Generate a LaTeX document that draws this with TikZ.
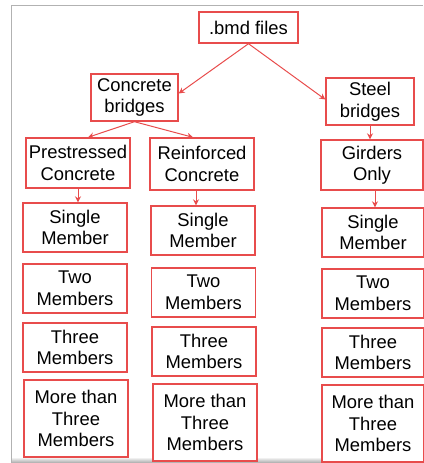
\documentclass[tikz,border=0pt]{standalone}
\usepackage{fontspec}
\setmainfont{Liberation Sans}
\usepackage{tikz}
\usetikzlibrary{arrows.meta}
\definecolor{boxred}{RGB}{232,76,76}

\tikzset{
  caixa/.style={draw=boxred, line width=1.4pt, fill=white, align=center,
    inner sep=1pt, font=\fontsize{18.4}{21.5}\selectfont},
  seta/.style={draw=boxred, line width=1pt, -{Stealth[length=6pt,width=6pt]}}
}

\begin{document}
\begin{tikzpicture}[x=1pt,y=-1pt]
        \useasboundingbox (0,0) rectangle (423,463);

        % moldura
        \shade[top color=white, bottom color=gray!70] (12,457) rectangle (423,463);
        \draw[gray!60, line width=0.9pt] (11,463) -- (11,5) -- (423,5);

        % topo
        \node[caixa, minimum width=99pt, minimum height=31pt] (bmd) at (248.5,27.5) {.bmd files};
        \node[caixa, minimum width=87pt, minimum height=47pt] (concreto) at (134.5,97.5) {Concrete\\bridges};
        \node[caixa, minimum width=88pt, minimum height=47pt] (aco) at (370,101.5) {Steel\\bridges};

        % segundo nivel
        \node[caixa, minimum width=104pt, minimum height=50pt] (pc) at (78,163) {Prestressed\\Concrete};
        \node[caixa, minimum width=104pt, minimum height=52pt] (rc) at (202,164) {Reinforced\\Concrete};
        \node[caixa, minimum width=102pt, minimum height=50pt] (go) at (372,165) {Girders\\Only};

        % Primeira coluna
        \node[caixa, minimum width=104pt, minimum height=49pt] (pc1) at (75,227.5) {Single\\Member};
        \node[caixa, minimum width=104pt, minimum height=49pt] (pc2) at (75,288.5) {Two\\Members};
        \node[caixa, minimum width=104pt, minimum height=49pt] (pc3) at (75,347.5) {Three\\Members};
        \node[caixa, minimum width=104pt, minimum height=77pt] (pc4) at (76,418.5) {More than\\Three\\Members};

        % Segunda coluna
        \node[caixa, minimum width=104pt, minimum height=49pt] (rc1) at (203,230.5) {Single\\Member};
        \node[caixa, minimum width=104pt, minimum height=49pt] (rc2) at (203.5,292.5) {Two\\Members};
        \node[caixa, minimum width=104pt, minimum height=49pt] (rc3) at (204,351.5) {Three\\Members};
        \node[caixa, minimum width=104pt, minimum height=77pt] (rc4) at (205,422.5) {More than\\Three\\Members};

        % Terceira coluna
        \node[caixa, minimum width=102pt, minimum height=49pt] (go1) at (373,232.5) {Single\\Member};
        \node[caixa, minimum width=102pt, minimum height=49pt] (go2) at (373,293.5) {Two\\Members};
        \node[caixa, minimum width=102pt, minimum height=49pt] (go3) at (373,352.5) {Three\\Members};
        \node[caixa, minimum width=102pt, minimum height=77pt] (go4) at (373,423.5) {More than\\Three\\Members};

        % setas
        \draw[seta] (bmd.south) -- ([yshift=4pt]concreto.east);
        \draw[seta] (bmd.south) -- ([yshift=2pt]aco.west);
        \draw[seta] (concreto.south) -- ([xshift=10pt]pc.north);
        \draw[seta] (concreto.south) -- ([xshift=-9pt]rc.north);
        \draw[seta] (aco.south) -- (aco.south |- go.north);
        \draw[seta] (pc.south) -- (pc.south |- pc1.north);
        \draw[seta] ([xshift=-6pt]rc.south) -- ([xshift=-6pt]rc.south |- rc1.north);
        \draw[seta] ([xshift=3pt]go.south) -- ([xshift=3pt]go.south |- go1.north);
    \end{tikzpicture}
\end{document}
